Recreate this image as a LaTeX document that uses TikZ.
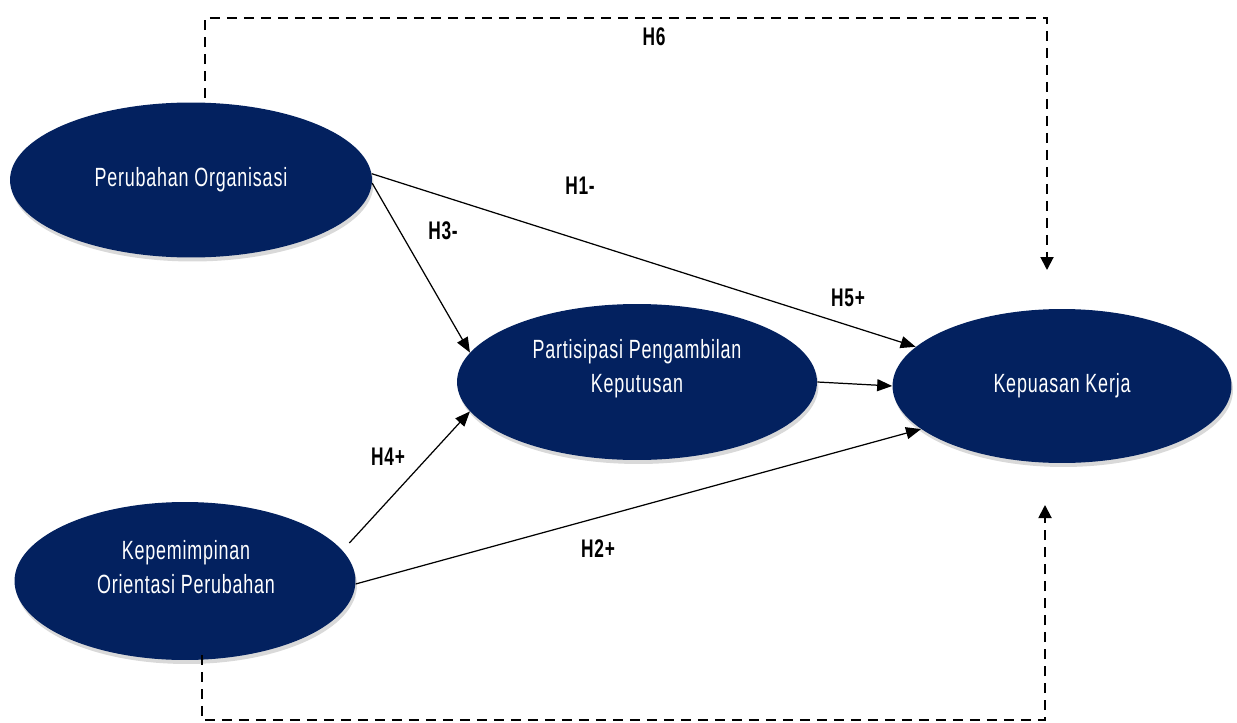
\documentclass[tikz,border=0pt]{standalone}
\usepackage{fontspec}
\setmainfont{Liberation Sans}[FakeStretch=0.68,LetterSpace=3]
\usepackage{xcolor}
\usepackage{tikz}
\usetikzlibrary{arrows.meta, shapes.geometric, shadows}
\definecolor{navy}{HTML}{03215F}

\begin{document}
\begin{tikzpicture}[x=0.02cm, y=-0.02cm,
  var/.style={ellipse, fill=navy, inner sep=0pt, text=white,
    font=\fontsize{15}{20}\selectfont, align=center,
    drop shadow={opacity=0.3, shadow xshift=0.03cm, shadow yshift=-0.08cm}},
  vartext/.style={text=white, font=\fontsize{15}{19.5}\selectfont, align=center},
  link/.style={-{Triangle[length=0.3cm,width=0.24cm]}, line width=0.7pt},
  dlink/.style={-{Triangle[length=0.26cm,width=0.26cm]}, line width=1.1pt, dash pattern=on 0.2cm off 0.14cm},
  hyp/.style={font=\bfseries\fontsize{14.5}{16}\selectfont}]
\useasboundingbox (0,0) rectangle (1237,723);

% variables
\node[var, minimum width=7.24cm, minimum height=3.1cm] (po) at (191,180) {Perubahan Organisasi};
\node[var, minimum width=7.2cm, minimum height=3.12cm] (part) at (637,382) {};
\node[vartext] (partt) at (637,369) {Partisipasi Pengambilan\\Keputusan};
\node[var, minimum width=6.78cm, minimum height=3.08cm] (kep) at (1062,386) {Kepuasan Kerja};
\node[var, minimum width=6.82cm, minimum height=3.16cm] (kp) at (185,581) {};
\node[vartext] (kpt) at (186,567) {Kepemimpinan\\Orientasi Perubahan};

% direct paths
\draw[link] (po.2) -- (kep.165);
\draw[link] (po.-1) -- (part.170);
\draw[link] (part.east) -- (kep.west);
\draw[link, shorten <=0.2cm] (kp.11.5) -- (part.190);
\draw[link] (kp.-1) -- (kep.197);

% H6 paths
\coordinate (ta) at (205,98);
\coordinate (tb) at (1047,270);
\coordinate (ba) at (202,655);
\coordinate (bb) at (1045,505);
\draw[dlink] (ta) -- (205,18) -- (1047,18) -- (tb);
\draw[dlink] (ba) -- (202,720) -- (1045,720) -- (bb);

% labels
\node[hyp] (h1) at (580,186) {H1-};
\node[hyp] (h2) at (598,549) {H2+};
\node[hyp] (h3) at (443,231) {H3-};
\node[hyp] (h4) at (388,457) {H4+};
\node[hyp] (h5) at (848,298) {H5+};
\node[hyp] (h6) at (654,37) {H6};
\end{tikzpicture}
\end{document}
